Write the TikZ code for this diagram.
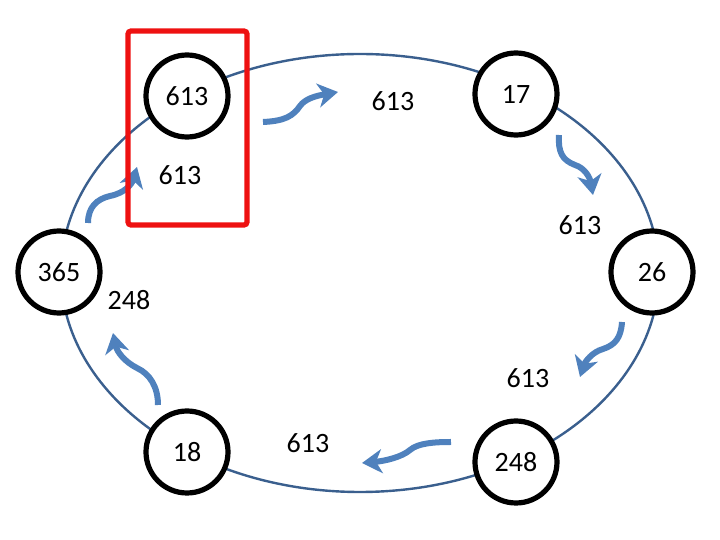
\documentclass[tikz,border=0pt]{standalone}
\usepackage{fontspec}
\setmainfont{Carlito}
\usetikzlibrary{arrows.meta}
\definecolor{ringblue}{HTML}{3A5F8E}
\definecolor{waveblue}{HTML}{4F81BD}
\definecolor{boxred}{HTML}{EE1111}
\tikzset{
  stn/.style    = {circle, draw, line width=2.6pt, fill=white, minimum size=41pt,
                   inner sep=0pt, font=\fontsize{14}{16}\selectfont},
  lbl/.style    = {inner sep=1pt, font=\fontsize{14}{16}\selectfont},
  ring/.style   = {draw=ringblue, line width=1.2pt},
  wave/.style   = {draw=waveblue, line width=3pt,
                   -{Stealth[length=10pt, width=12pt, inset=3pt]}},
  hilite/.style = {draw=boxred, line width=2.6pt, rounded corners=1.5pt},
}

\begin{document}
\begin{tikzpicture}[x=0.5pt, y=-0.5pt]
    \useasboundingbox (0,0) rectangle (720,540);

    \draw[ring] (360,273) ellipse [x radius=149.5pt, y radius=109.5pt];

    \node[stn] (n613) at (187,96)  {613};
    \node[stn] (n17)  at (516,94)  {17};
    \node[stn] (n26)  at (652,272) {26};
    \node[stn] (n248) at (516,462) {248};
    \node[stn] (n18)  at (187,452) {18};
    \node[stn] (n365) at (59,272)  {365};

    \node[lbl] (l1) at (393,101) {613};
    \node[lbl] (l2) at (180,175) {613};
    \node[lbl] (l3) at (580,225) {613};
    \node[lbl] (l4) at (129,300) {248};
    \node[lbl] (l5) at (528,378) {613};
    \node[lbl] (l6) at (308,443) {613};

    \coordinate (a1s) at (263,122);  \coordinate (a1e) at (338,92);
    \coordinate (a2s) at (559,135);  \coordinate (a2e) at (593,195);
    \coordinate (a3s) at (622,322);  \coordinate (a3e) at (580,377);
    \coordinate (a4s) at (451,442);  \coordinate (a4e) at (362,463);
    \coordinate (a5s) at (158,405);  \coordinate (a5e) at (113,333);
    \coordinate (a6s) at (88,223);   \coordinate (a6e) at (137,167);

    \draw[wave] (a1s) .. controls (285,121) and (293,116) .. (300,106)
                      .. controls (305,99) and (315,96) .. (a1e);
    \draw[wave] (a2s) .. controls (558,152) and (562,160) .. (575,165)
                      .. controls (585,168) and (590,178) .. (a2e);
    \draw[wave] (a3s) .. controls (621,338) and (615,345) .. (603,349)
                      .. controls (592,352) and (585,362) .. (a3e);
    \draw[wave] (a4s) .. controls (435,442) and (418,443) .. (410,450)
                      .. controls (402,457) and (385,461) .. (a4e);
    \draw[wave] (a5s) .. controls (158,387) and (150,374) .. (137,368)
                      .. controls (125,362) and (117,352) .. (a5e);
    \draw[wave] (a6s) .. controls (88,207) and (97,199) .. (110,196)
                      .. controls (125,193) and (132,184) .. (a6e);

    \draw[hilite] (128,31) rectangle (247,225);
\end{tikzpicture}
\end{document}
